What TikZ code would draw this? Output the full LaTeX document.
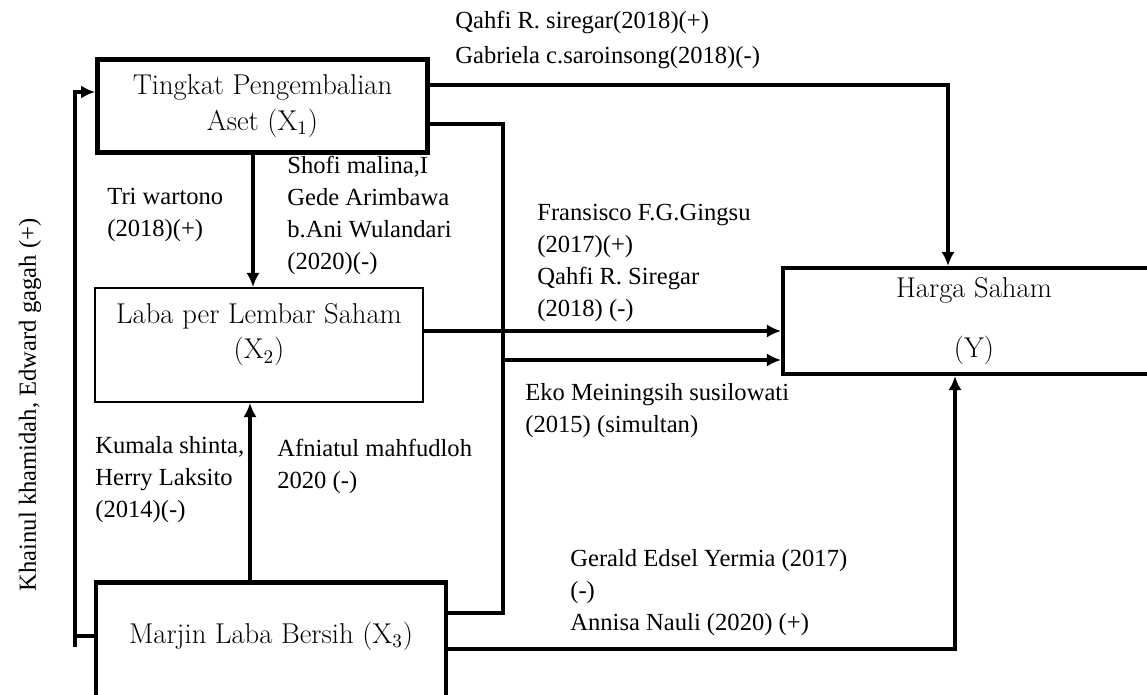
\documentclass[tikz,border=0pt]{standalone}
\usepackage{fontspec}
\newfontfamily\labfont{Liberation Serif}
\usetikzlibrary{arrows.meta}
\tikzset{>={Latex[width=7.5pt,length=8pt]}}

\begin{document}
\begin{tikzpicture}[
    x = 0.02cm, y = -0.02cm,
    box/.style = {draw, line width=2.8pt, inner sep=0mm, align=center,
        font=\fontsize{16.3}{20.4}\selectfont},
    lab/.style = {anchor=north west, inner sep=0mm, align=left,
        font=\labfont\fontsize{14}{18.1}\selectfont},
    link/.style = {line width=2.8pt}
  ]
  \clip (0,0) rectangle (1147,695);

  \node[box, minimum width=6.6cm, minimum height=1.86cm] (X1) at (262.5,106)
    {Tingkat Pengembalian\\Aset (X$_1$)};
  \node[box, line width=1.1pt, minimum width=6.56cm, minimum height=2.28cm,
    text depth=16pt] (X2) at (259,345) {Laba per Lembar Saham\\(X$_2$)};
  \node[box, minimum width=7cm, minimum height=2.5cm, text depth=14pt]
    (X3) at (271,645) {Marjin Laba Bersih (X$_3$)};
  \node[box, line width=2.3pt, minimum width=7.64cm, minimum height=2.12cm]
    (Y) at (974,321) {Harga Saham\\[14pt](Y)};

  \coordinate (a1) at (948,85);
  \coordinate (b1) at (503,124);
  \coordinate (b2) at (503,613);
  \coordinate (b3) at (503,360);
  \coordinate (c1) at (0,331);
  \coordinate (d1) at (955,649);
  \coordinate (e0) at (75,647);
  \coordinate (e1) at (75,636);
  \coordinate (e2) at (75,92);

  \draw[link, ->] (X1.east |- a1) -- (a1) -- (a1 |- Y.north);
  \draw[link] (X1.east |- b1) -- (b1) -- (b2) -- (X3.east |- b2);
  \draw[link, ->] (b3) -- (Y.west |- b3);
  \draw[link, ->] (X2.east |- c1) -- (Y.west |- c1);
  \draw[link, ->] (X3.east |- d1) -- (d1) -- (d1 |- Y.south);
  \draw[link, ->] (e0) -- (e2) -- (X1.west |- e2);
  \draw[link] (X3.west |- e1) -- (e1);
  \draw[link, line width=2.3pt, ->] (X1.south -| 253,0) -- (X2.north -| 253,0);
  \draw[link, ->] (X3.north -| 250,0) -- (X2.south -| 250,0);

  \foreach \n/\x/\y/\t in {
      Q1/455/11/{Qahfi R. siregar(2018)(+)\\[1.7pt]Gabriela c.saroinsong(2018)(-)},
      T1/107/188/{Tri wartono\\(2018)(+)},
      S1/287/156/{Shofi malina,I\\Gede Arimbawa\\b.Ani Wulandari\\(2020)(-)},
      F1/537/204/{Fransisco F.G.Gingsu\\(2017)(+)\\Qahfi R. Siregar\\(2018) (-)},
      E1/525/383/{Eko Meiningsih susilowati\\(2015) (simultan)},
      K1/95/436/{Kumala shinta,\\Herry Laksito\\(2014)(-)},
      A1/277/439/{Afniatul mahfudloh\\2020 (-)},
      G1/570/549/{Gerald Edsel Yermia (2017)\\(-)\\Annisa Nauli (2020) (+)}}
    \node[lab] (\n) at (\x,\y) {\t};

  \node[lab, anchor=center, rotate=90] (R1) at (30,405)
    {Khainul khamidah, Edward gagah (+)};
\end{tikzpicture}
\end{document}
